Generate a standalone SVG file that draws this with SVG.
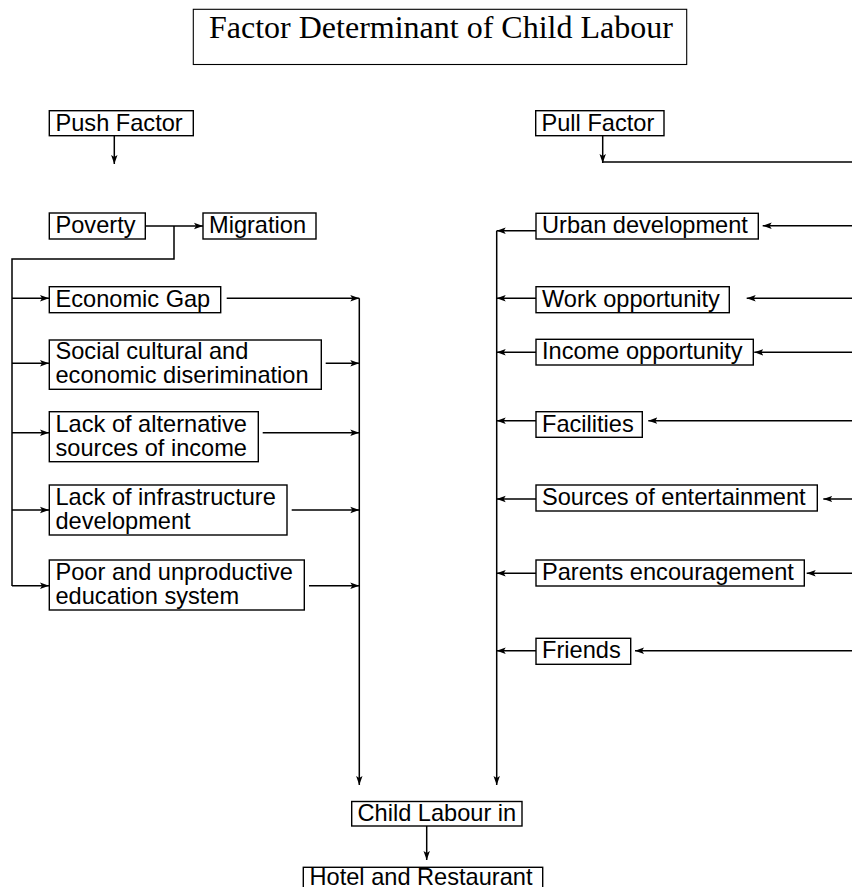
<svg xmlns="http://www.w3.org/2000/svg" width="852" height="887" viewBox="0 0 852 887">
<style>
  .box { fill: #fff; stroke: #000; stroke-width: 1.4; }
  .t { font-family: "Liberation Sans", Arial, sans-serif; font-size: 23.6px; fill: #000; }
  .title { font-family: "Liberation Serif", "Times New Roman", serif; font-size: 32px; fill: #000; }
  .c { fill: none; stroke: #000; stroke-width: 1.5; }
</style>
<defs>
  <marker id="ah" markerUnits="userSpaceOnUse" markerWidth="10" markerHeight="8" refX="9" refY="4" orient="auto">
    <path d="M0,0.8 L9,4 L0,7.2 L2,4 z" fill="#000"/>
  </marker>
</defs>
<rect width="852" height="887" fill="#fff"/>

<g id="title">
  <rect class="box" x="193.3" y="9.3" width="493.4" height="55.2" style="stroke-width:1.1"/>
  <text class="title" x="209" y="38">Factor Determinant of Child Labour</text>
</g>

<g id="connectors">
  <path class="c" d="M114.3,136 V164" marker-end="url(#ah)"/>
  <path class="c" d="M602.7,136 V163" marker-end="url(#ah)"/>
  <path class="c" d="M602.7,162 H852"/>
  <path class="c" d="M145.3,226 H203" marker-end="url(#ah)"/>
  <path class="c" d="M174,226 V259 H12 V586"/>
  <path class="c" d="M12,298.3 H49" marker-end="url(#ah)"/>
  <path class="c" d="M12,363.3 H49" marker-end="url(#ah)"/>
  <path class="c" d="M12,432.7 H49" marker-end="url(#ah)"/>
  <path class="c" d="M12,510 H49" marker-end="url(#ah)"/>
  <path class="c" d="M12,585.7 H49" marker-end="url(#ah)"/>
  <path class="c" d="M226.7,298.3 H359.3" marker-end="url(#ah)"/>
  <path class="c" d="M325.7,363.3 H359.3" marker-end="url(#ah)"/>
  <path class="c" d="M262.7,432.7 H359.3" marker-end="url(#ah)"/>
  <path class="c" d="M291.7,510 H359.3" marker-end="url(#ah)"/>
  <path class="c" d="M309,585.7 H359.3" marker-end="url(#ah)"/>
  <path class="c" d="M359.3,298.3 V785" marker-end="url(#ah)"/>
  <path class="c" d="M496.7,230.7 V785" marker-end="url(#ah)"/>
  <path class="c" d="M536,230.7 H496.7" marker-end="url(#ah)"/>
  <path class="c" d="M536,298.3 H496.7" marker-end="url(#ah)"/>
  <path class="c" d="M536,352.3 H496.7" marker-end="url(#ah)"/>
  <path class="c" d="M536,420.7 H496.7" marker-end="url(#ah)"/>
  <path class="c" d="M536,499 H496.7" marker-end="url(#ah)"/>
  <path class="c" d="M536,573.3 H496.7" marker-end="url(#ah)"/>
  <path class="c" d="M536,650.7 H496.7" marker-end="url(#ah)"/>
  <path class="c" d="M852,225.7 H762.7" marker-end="url(#ah)"/>
  <path class="c" d="M852,298.3 H746.7" marker-end="url(#ah)"/>
  <path class="c" d="M852,352.3 H754.3" marker-end="url(#ah)"/>
  <path class="c" d="M852,420.7 H648.3" marker-end="url(#ah)"/>
  <path class="c" d="M852,499 H823.3" marker-end="url(#ah)"/>
  <path class="c" d="M852,573.3 H806.7" marker-end="url(#ah)"/>
  <path class="c" d="M852,650.7 H635" marker-end="url(#ah)"/>
  <path class="c" d="M426.7,826 V860" marker-end="url(#ah)"/>
</g>

<g id="push"><rect class="box" x="49.3" y="110.7" width="144" height="25"/><text class="t" x="55.5" y="131">Push Factor</text></g>
<g id="pull"><rect class="box" x="535.7" y="110.7" width="128.3" height="25"/><text class="t" x="541.5" y="131">Pull Factor</text></g>
<g id="poverty"><rect class="box" x="49.3" y="213" width="96" height="26"/><text class="t" x="55.5" y="233">Poverty</text></g>
<g id="migration"><rect class="box" x="203" y="213" width="113" height="26"/><text class="t" x="209" y="233">Migration</text></g>
<g id="economic-gap"><rect class="box" x="49.3" y="286.7" width="171.4" height="26"/><text class="t" x="55.5" y="306.7">Economic Gap</text></g>
<g id="social"><rect class="box" x="49.3" y="340" width="272" height="49.3"/><text class="t" x="55.5" y="359">Social cultural and</text><text class="t" x="55.5" y="383.3">economic diserimination</text></g>
<g id="alt-income"><rect class="box" x="49.3" y="411.7" width="209" height="50"/><text class="t" x="55.5" y="431.7">Lack of alternative</text><text class="t" x="55.5" y="455.7">sources of income</text></g>
<g id="infrastructure"><rect class="box" x="49.3" y="485" width="237.7" height="50"/><text class="t" x="55.5" y="505">Lack of infrastructure</text><text class="t" x="55.5" y="529">development</text></g>
<g id="education"><rect class="box" x="49.3" y="560" width="255" height="50"/><text class="t" x="55.5" y="580">Poor and unproductive</text><text class="t" x="55.5" y="604">education system</text></g>

<g id="urban"><rect class="box" x="536" y="213.3" width="222.3" height="25.7"/><text class="t" x="542" y="233">Urban development</text></g>
<g id="work"><rect class="box" x="536" y="286.7" width="193.3" height="26"/><text class="t" x="542" y="306.7">Work opportunity</text></g>
<g id="income"><rect class="box" x="536" y="339.3" width="217.3" height="25.7"/><text class="t" x="542" y="359">Income opportunity</text></g>
<g id="facilities"><rect class="box" x="536" y="411.7" width="106.3" height="25.6"/><text class="t" x="542" y="431.5">Facilities</text></g>
<g id="entertainment"><rect class="box" x="536" y="485" width="281.3" height="26"/><text class="t" x="542" y="505">Sources of entertainment</text></g>
<g id="parents"><rect class="box" x="536" y="560" width="268.3" height="26"/><text class="t" x="542" y="580">Parents encouragement</text></g>
<g id="friends"><rect class="box" x="536" y="638.3" width="94.7" height="26"/><text class="t" x="542" y="658.3">Friends</text></g>

<g id="child-labour"><rect class="box" x="351.7" y="801.5" width="170.3" height="24.5"/><text class="t" x="357.5" y="820.5">Child Labour in</text></g>
<g id="hotel"><rect class="box" x="303.3" y="867.3" width="239.4" height="26"/><text class="t" x="309.5" y="884.5">Hotel and Restaurant</text></g>
</svg>
